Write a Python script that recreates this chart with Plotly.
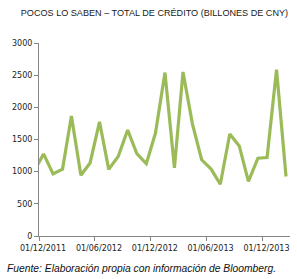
import plotly.graph_objects as go

months = ["2011-11", "2011-12", "2012-01", "2012-02", "2012-03", "2012-04", "2012-05",
          "2012-06", "2012-07", "2012-08", "2012-09", "2012-10", "2012-11", "2012-12",
          "2013-01", "2013-02", "2013-03", "2013-04", "2013-05", "2013-06", "2013-07",
          "2013-08", "2013-09", "2013-10", "2013-11", "2013-12", "2014-01", "2014-02"]
credito = [1018, 1276, 965, 1040, 1866, 945, 1135, 1775, 1036, 1235, 1648, 1280,
           1125, 1600, 2540, 1060, 2550, 1740, 1185, 1040, 805, 1585, 1400, 850,
           1210, 1220, 2585, 925]

x_dates = [m + "-16" for m in months]

fig = go.Figure()
fig.add_trace(go.Scatter(
    x=x_dates, y=credito, mode="lines",
    line=dict(color="#9BBB59", width=3.2),
    hoverinfo="skip",
))

axis_color = "#868686"
fig.update_layout(
    width=297, height=279,
    margin=dict(l=39, r=7, t=43, b=43),
    paper_bgcolor="white", plot_bgcolor="white",
    showlegend=False,
    title=dict(
        text="POCOS LO SABEN – TOTAL DE CRÉDITO (BILLONES DE CNY)",
        x=0.52, xanchor="center", y=0.955, yanchor="middle",
        font=dict(family="Liberation Sans", size=9.1, color="#1a1a1a"),
    ),
    xaxis=dict(
        type="date",
        range=["2011-12-01", "2014-03-01"],
        tick0="2011-12-01", dtick="M6",
        tickformat="%d/%m/%Y",
        showgrid=False, zeroline=False,
        showline=True, linecolor=axis_color, linewidth=1,
        ticks="outside", ticklen=4, tickcolor=axis_color,
        ticklabelshift=4,
        tickfont=dict(family="DejaVu Sans", size=8, color="#222"),
    ),
    yaxis=dict(
        range=[0, 3000],
        tickvals=[0, 500, 1000, 1500, 2000, 2500, 3000],
        showgrid=False, zeroline=False,
        showline=True, linecolor=axis_color, linewidth=1,
        ticks="outside", ticklen=4, tickcolor=axis_color,
        tickfont=dict(family="DejaVu Sans", size=8, color="#222"),
    ),
    annotations=[dict(
        text="<i>Fuente: Elaboración propia con información de Bloomberg.</i>",
        xref="paper", yref="paper", x=-0.136, y=-0.168,
        xanchor="left", yanchor="middle", showarrow=False,
        font=dict(family="Liberation Sans", size=10.3, color="#111"),
    )],
)

fig.write_html("out.html")
